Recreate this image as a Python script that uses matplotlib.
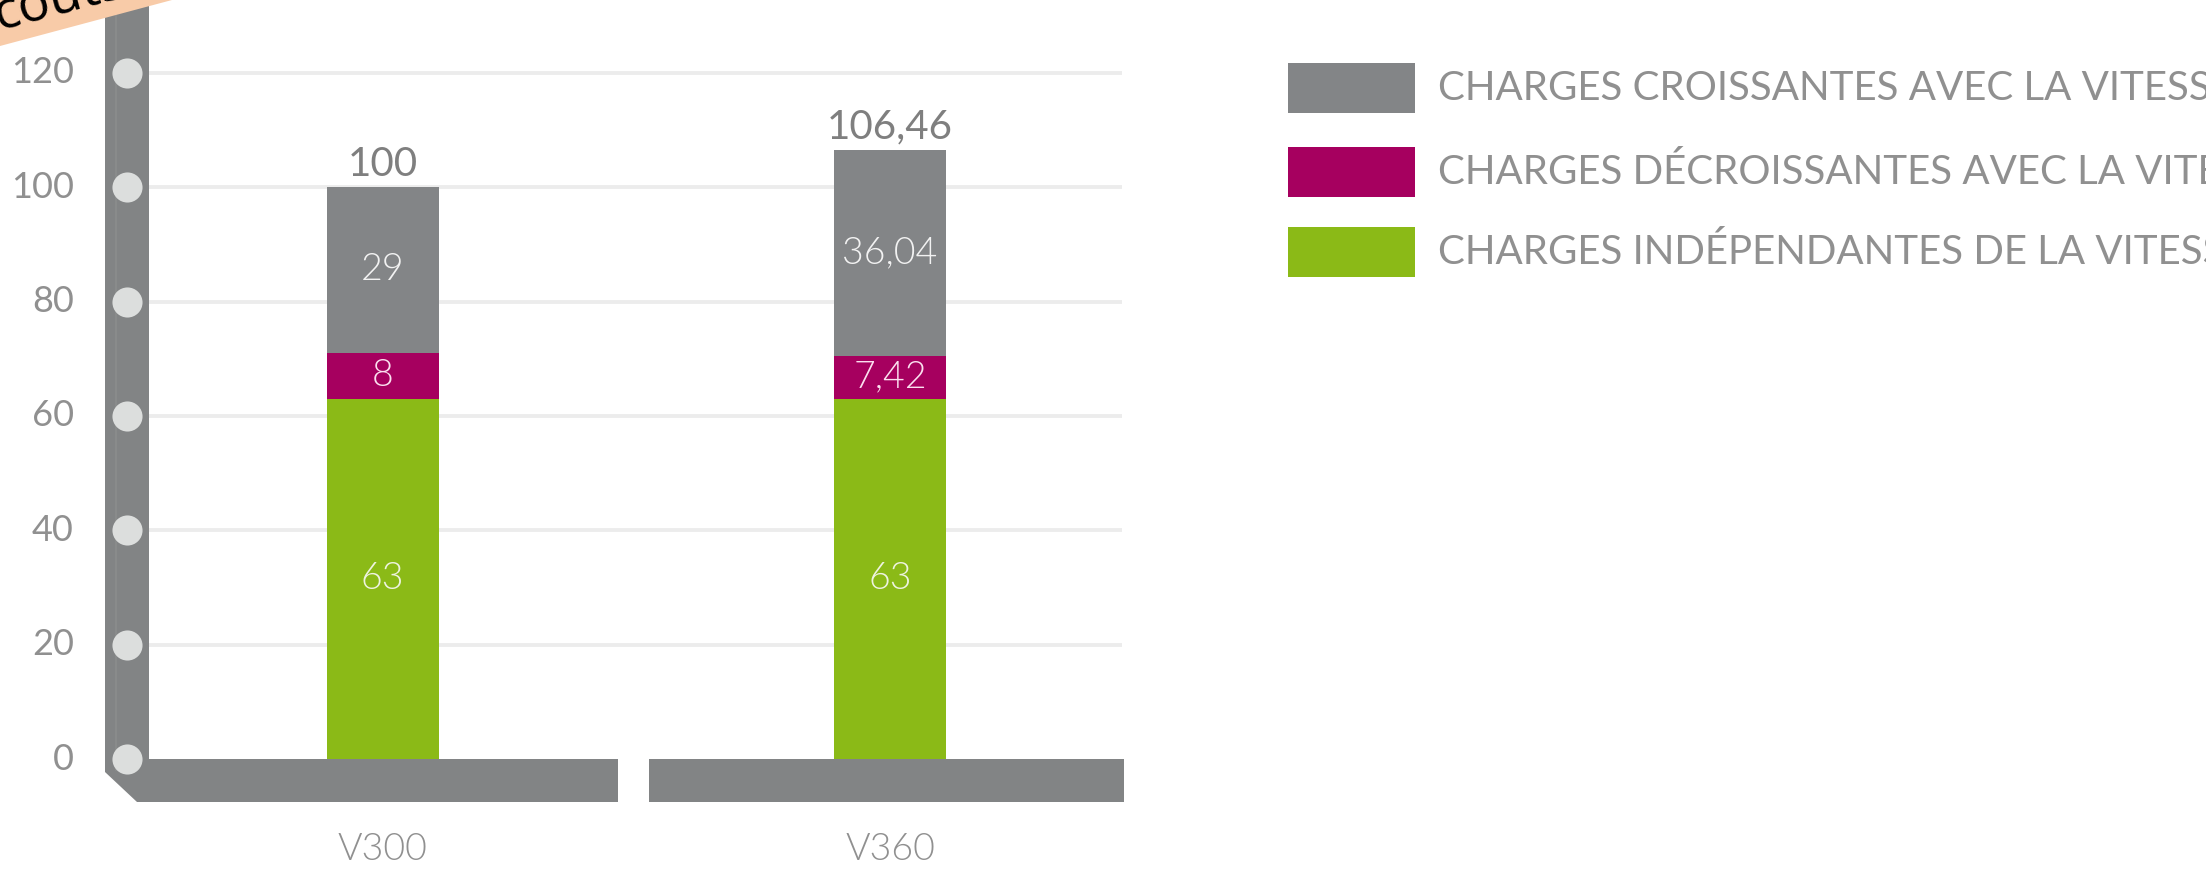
import matplotlib
matplotlib.use("Agg")
import matplotlib.pyplot as plt
from matplotlib.patches import Polygon, Rectangle

# ---- data ----
categories = ["V300", "V360"]
independent = [63, 63]          # charges indépendantes de la vitesse
decreasing = [8, 7.42]          # charges décroissantes avec la vitesse
increasing = [29, 36.04]        # charges croissantes avec la vitesse
totals = [100, 106.46]
y_ticks = [0, 20, 40, 60, 80, 100, 120]
legend_labels = [
    "CHARGES CROISSANTES AVEC LA VITESSE",
    "CHARGES DÉCROISSANTES AVEC LA VITESSE",
    "CHARGES INDÉPENDANTES DE LA VITESSE",
]

def fmt(v):
    s = f"{v:g}"
    return s.replace(".", ",")

# ---- style ----
C_GRAY = "#838587"
C_MAG = "#a6005f"
C_GREEN = "#8bba17"
C_AXIS = "#828485"
C_DOT = "#dcdedd"
C_GRID = "#ececec"
C_TEXT = "#909090"
FONT = ["Lato", "DejaVu Sans"]
LIGHT = 300

W, H = 2206, 871
fig = plt.figure(figsize=(W / 100, H / 100), dpi=100)
ax = fig.add_axes([0, 0, 1, 1])

# data scale: bar centres 507.5 px apart, 5.717 px per unit
XL, XR = -382.5 / 507.5, (W - 382.5) / 507.5
YB, YT = -(H - 759) / 5.717, 759 / 5.717
ax.set_xlim(XL, XR)
ax.set_ylim(YB, YT)
ax.axis("off")

def px(xp, yp):
    return (XL + xp / W * (XR - XL), YT - yp / H * (YT - YB))

# gridlines
gx0, gx1 = px(149, 0)[0], px(1122, 0)[0]
for t in y_ticks[1:]:
    ax.plot([gx0, gx1], [t, t], color=C_GRID, lw=2.8, zorder=1, solid_capstyle="butt")

# stacked bars
x = list(range(len(categories)))
bw = 112 / 507.5
ax.bar(x, independent, width=bw, color=C_GREEN, zorder=3)
ax.bar(x, decreasing, width=bw, bottom=independent, color=C_MAG, zorder=3)
bottom2 = [a + b for a, b in zip(independent, decreasing)]
ax.bar(x, increasing, width=bw, bottom=bottom2, color=C_GRAY, zorder=3)

# segment value labels
for i in x:
    ax.text(i, independent[i] / 2, fmt(independent[i]), ha="center", va="center",
            color="#eef3e0", fontsize=27, family=FONT, fontweight=LIGHT, zorder=6)
    ax.text(i, independent[i] + decreasing[i] / 2, fmt(decreasing[i]), ha="center",
            va="center", color="#fbe0ef", fontsize=27, family=FONT,
            fontweight=LIGHT, zorder=6)
    ax.text(i, bottom2[i] + increasing[i] / 2, fmt(increasing[i]), ha="center",
            va="center", color="#f2f2f2", fontsize=27, family=FONT,
            fontweight=LIGHT, zorder=6)
    ax.text(i, totals[i] + 2.0, fmt(totals[i]), ha="center", va="baseline",
            color="#7f7f7f", fontsize=29, family=FONT, zorder=6)
    ax.text(i, px(0, 850)[1], categories[i], ha="center", va="center",
            color=C_TEXT, fontsize=27, family=FONT, fontweight=LIGHT, zorder=6)

# axis frame: vertical bar with bevelled corner and split base
frame = [(105, 0), (149, 0), (149, 759), (618, 759), (618, 802),
         (137, 802), (105, 772)]
ax.add_patch(Polygon([px(*p) for p in frame], closed=True, color=C_AXIS, zorder=4, lw=0))
base2 = [(649, 759), (1124, 759), (1124, 802), (649, 802)]
ax.add_patch(Polygon([px(*p) for p in base2], closed=True, color=C_AXIS, zorder=4, lw=0))
sx = px(116, 0)[0]
ax.plot([sx, sx], [px(0, 0)[1], px(0, 770)[1]], color="#8b8d8d", lw=1.2, zorder=4.5)

# tick dots and labels
dx = px(127, 0)[0]
ax.scatter([dx] * len(y_ticks), y_ticks, s=470, color=C_DOT, zorder=5, linewidths=0)
lx = px(74, 0)[0]
for t in y_ticks:
    ax.text(lx, t, str(t), ha="right", va="center", color=C_TEXT, fontsize=26,
            family=FONT, zorder=6)

# legend
leg_colors = [C_GRAY, C_MAG, C_GREEN]
leg_rows = [(63, 113), (147, 197), (227, 277)]
for (y0, y1), col, lab in zip(leg_rows, leg_colors, legend_labels):
    x0p, y0p = px(1288, y1)
    x1p, y1p = px(1415, y0)
    ax.add_patch(Rectangle((x0p, y0p), x1p - x0p, y1p - y0p, color=col, lw=0, zorder=3))
    ax.text(px(1438, 0)[0], (y0p + y1p) / 2, lab, ha="left", va="center",
            color=C_TEXT, fontsize=29, family=FONT, zorder=6)

# corner note banner
banner = [(0, 0), (0, 46), (172, 0)]
ax.add_patch(Polygon([px(*p) for p in banner], closed=True, color="#f8cba8", lw=0, zorder=7))
bx, by = px(-2, 30)
ax.text(bx, by, "coûts", rotation=15, rotation_mode="anchor", ha="left",
        va="baseline", color="black", fontsize=38, family=["Open Sans", "DejaVu Sans"],
        zorder=8, clip_on=True)

fig.savefig("out.png", dpi=100)
